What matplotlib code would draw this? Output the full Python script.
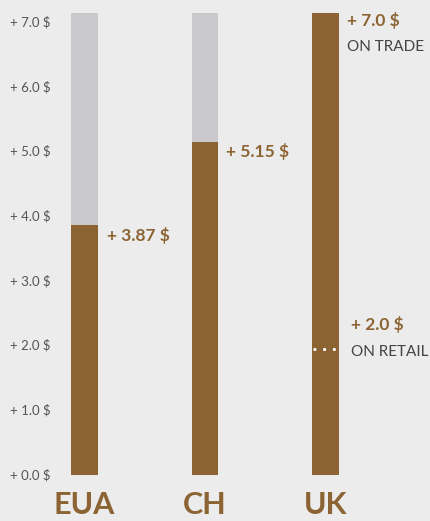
import matplotlib.pyplot as plt
from matplotlib.transforms import blended_transform_factory

# data
countries = ['EUA', 'CH', 'UK']
values = [3.87, 5.15, 7.0]
bar_max = 7.15
ticks = [0.0, 1.0, 2.0, 3.0, 4.0, 5.0, 6.0, 7.0]
value_labels = ['+ 3.87 $', '+ 5.15 $', '+ 7.0 $']
retail_value = 2.0

brown = '#8c6434'
grey_bar = '#c9c9cb'
bg = '#ececec'

fig = plt.figure(figsize=(4.3, 5.21), dpi=100, facecolor=bg)
ax = fig.add_axes([0, 46/521, 1, 462.5/521])
ax.set_facecolor(bg)
ax.set_xlim(-84.5/120.5, (430-84.5)/120.5)
ax.set_ylim(0, bar_max)
ax.axis('off')

x = list(range(len(countries)))
w = 26.5/120.5
# the top value fills the whole bar
heights = [v if v < max(values) else bar_max for v in values]
ax.bar(x, [bar_max]*len(x), width=w, color=grey_bar, zorder=1)
ax.bar(x, heights, width=w, color=brown, zorder=2)

# y tick labels
trans = blended_transform_factory(ax.transAxes, ax.transData)
for t in ticks:
    ax.text(10/430, t, '+ %.1f $' % t, transform=trans, ha='left', va='center',
            fontsize=9.5, color='#555555', family='Lato')

# category labels
for i, c in enumerate(countries):
    ax.text(i, -0.46, c, ha='center', va='center', fontsize=22,
            fontweight='bold', color=brown, family='Lato', clip_on=False)

# value labels
ax.text(0 + 0.187, values[0] - 0.17, value_labels[0], ha='left', va='center',
        fontsize=12.5, fontweight='bold', color=brown, family='Lato')
ax.text(1 + 0.178, values[1] - 0.15, value_labels[1], ha='left', va='center',
        fontsize=12.5, fontweight='bold', color=brown, family='Lato')
ax.text(2 + 0.18, values[2] + 0.03, value_labels[2], ha='left', va='center',
        fontsize=12.5, fontweight='bold', color=brown, family='Lato')
ax.text(2 + 0.18, values[2] - 0.39, 'ON TRADE', ha='left', va='center',
        fontsize=11, color='#444444', family='Lato')

# retail marker
ax.plot([2 - w/2 + 0.01, 2 + w/2], [retail_value - 0.05]*2, ls=(0, (1, 2.5)),
        color='white', lw=2, zorder=3)
ax.text(2 + 0.21, retail_value + 0.32, '+ 2.0 $', ha='left', va='center',
        fontsize=12.5, fontweight='bold', color=brown, family='Lato')
ax.text(2 + 0.21, retail_value - 0.1, 'ON RETAIL', ha='left', va='center',
        fontsize=11, color='#444444', family='Lato')

fig.savefig('out.png', dpi=100, facecolor=bg)
plt.close()
